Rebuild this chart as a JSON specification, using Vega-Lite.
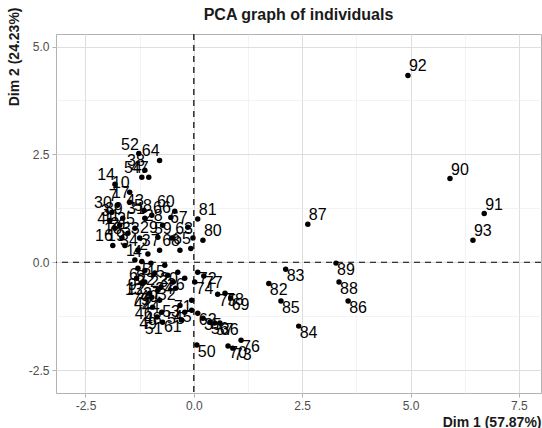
{
  "$schema": "https://vega.github.io/schema/vega-lite/v6.json",
  "width": 485,
  "height": 359,
  "autosize": {"type": "none"},
  "padding": {"left": 56, "top": 34, "right": 1, "bottom": 35},
  "background": "white",
  "config": {
    "font": "Liberation Sans",
    "view": {"stroke": "#b3b3b3", "strokeWidth": 1},
    "axis": {
      "domain": false,
      "labelFont": "Liberation Sans",
      "labelFontSize": 12,
      "labelColor": "#4d4d4d",
      "labelOverlap": false,
      "tickColor": "#b3b3b3",
      "tickSize": 4,
      "labelPadding": 3,
      "titleFont": "Liberation Sans",
      "titleFontSize": 14,
      "titleFontWeight": "bold",
      "titleColor": "#1a1a1a",
      "gridColor": {"condition": {"test": "datum.value % 2.5 === 0", "value": "#dedede"}, "value": "#ebebeb"},
      "gridWidth": {"condition": {"test": "datum.value % 2.5 === 0", "value": 1}, "value": 0.6},
      "tickOpacity": {"condition": {"test": "datum.value % 2.5 === 0", "value": 1}, "value": 0}
    }
  },
  "title": {
    "text": "PCA graph of individuals",
    "font": "Liberation Sans",
    "fontSize": 16,
    "fontWeight": "bold",
    "color": "#1a1a1a",
    "anchor": "middle",
    "baseline": "alphabetic",
    "offset": 13,
    "dy": 42
  },
  "datasets": {
    "ind": [
      {"name": "1", "dim1": -1.36, "dim2": 0.05},
      {"name": "2", "dim1": -1.06, "dim2": 0.19},
      {"name": "3", "dim1": -1.94, "dim2": 0.97},
      {"name": "4", "dim1": -1.20, "dim2": 0.02},
      {"name": "5", "dim1": -0.99, "dim2": -0.02},
      {"name": "6", "dim1": -1.29, "dim2": -0.14},
      {"name": "7", "dim1": -1.76, "dim2": 1.32},
      {"name": "8", "dim1": -1.13, "dim2": -0.19},
      {"name": "9", "dim1": -1.32, "dim2": -0.37},
      {"name": "10", "dim1": -1.48, "dim2": 1.62},
      {"name": "11", "dim1": -1.71, "dim2": 0.86},
      {"name": "12", "dim1": -1.13, "dim2": -0.46},
      {"name": "13", "dim1": -1.18, "dim2": -0.49},
      {"name": "14", "dim1": -1.82, "dim2": 1.81},
      {"name": "15", "dim1": -0.67, "dim2": -0.07},
      {"name": "16", "dim1": -1.87, "dim2": 0.39},
      {"name": "17", "dim1": -1.48, "dim2": 1.39},
      {"name": "18", "dim1": -1.66, "dim2": 0.56},
      {"name": "19", "dim1": -1.59, "dim2": 0.39},
      {"name": "20", "dim1": -0.37, "dim2": -0.23},
      {"name": "21", "dim1": -1.52, "dim2": 0.67},
      {"name": "22", "dim1": -0.90, "dim2": -0.25},
      {"name": "23", "dim1": -0.60, "dim2": -0.30},
      {"name": "24", "dim1": -0.48, "dim2": -0.46},
      {"name": "25", "dim1": -1.36, "dim2": 0.79},
      {"name": "26", "dim1": -0.21, "dim2": -0.37},
      {"name": "27", "dim1": -0.76, "dim2": -0.58},
      {"name": "28", "dim1": -0.72, "dim2": 0.86},
      {"name": "29", "dim1": -0.83, "dim2": 0.58},
      {"name": "30", "dim1": -1.89, "dim2": 1.16},
      {"name": "31", "dim1": -1.13, "dim2": 1.02},
      {"name": "32", "dim1": -0.42, "dim2": -0.60},
      {"name": "33", "dim1": -1.25, "dim2": 0.56},
      {"name": "34", "dim1": -1.29, "dim2": 0.28},
      {"name": "35", "dim1": 0.21, "dim2": -1.30},
      {"name": "36", "dim1": 0.60, "dim2": -1.41},
      {"name": "37", "dim1": -0.79, "dim2": 0.28},
      {"name": "38", "dim1": -1.13, "dim2": 2.13},
      {"name": "39", "dim1": -1.64, "dim2": 1.02},
      {"name": "40", "dim1": -0.83, "dim2": -0.65},
      {"name": "41", "dim1": -1.82, "dim2": 0.79},
      {"name": "42", "dim1": -0.97, "dim2": -0.81},
      {"name": "43", "dim1": -1.15, "dim2": 1.20},
      {"name": "44", "dim1": -0.79, "dim2": -0.88},
      {"name": "45", "dim1": -0.05, "dim2": -1.11},
      {"name": "46", "dim1": -0.95, "dim2": -1.04},
      {"name": "47", "dim1": -1.04, "dim2": 1.97},
      {"name": "48", "dim1": -0.74, "dim2": -1.16},
      {"name": "49", "dim1": -0.85, "dim2": -1.27},
      {"name": "50", "dim1": 0.07, "dim2": -1.92},
      {"name": "51", "dim1": -0.72, "dim2": -1.39},
      {"name": "52", "dim1": -1.27, "dim2": 2.52},
      {"name": "53", "dim1": -0.32, "dim2": -1.00},
      {"name": "54", "dim1": -1.20, "dim2": 1.97},
      {"name": "55", "dim1": -0.21, "dim2": -1.16},
      {"name": "56", "dim1": 0.37, "dim2": -1.39},
      {"name": "57", "dim1": 0.48, "dim2": -1.41},
      {"name": "58", "dim1": -0.97, "dim2": 1.09},
      {"name": "59", "dim1": -0.51, "dim2": 0.56},
      {"name": "60", "dim1": -0.44, "dim2": 1.18},
      {"name": "61", "dim1": -0.28, "dim2": -1.34},
      {"name": "62", "dim1": 0.09, "dim2": -1.18},
      {"name": "63", "dim1": -0.02, "dim2": 0.56},
      {"name": "64", "dim1": -0.79, "dim2": 2.36},
      {"name": "65", "dim1": -0.07, "dim2": 0.32},
      {"name": "66", "dim1": -0.53, "dim2": 1.04},
      {"name": "67", "dim1": -0.14, "dim2": 0.81},
      {"name": "68", "dim1": -0.32, "dim2": 0.28},
      {"name": "69", "dim1": 0.85, "dim2": -0.83},
      {"name": "70", "dim1": 0.79, "dim2": -1.94},
      {"name": "71", "dim1": -0.05, "dim2": -0.88},
      {"name": "72", "dim1": 0.09, "dim2": -0.23},
      {"name": "73", "dim1": 0.90, "dim2": -1.99},
      {"name": "74", "dim1": 0.02, "dim2": -0.46},
      {"name": "75", "dim1": 0.55, "dim2": -0.74},
      {"name": "76", "dim1": 1.09, "dim2": -1.81},
      {"name": "77", "dim1": 0.23, "dim2": -0.32},
      {"name": "78", "dim1": 0.72, "dim2": -0.72},
      {"name": "79", "dim1": -1.02, "dim2": -0.72},
      {"name": "80", "dim1": 0.21, "dim2": 0.51},
      {"name": "81", "dim1": 0.09, "dim2": 1.00},
      {"name": "82", "dim1": 1.73, "dim2": -0.49},
      {"name": "83", "dim1": 2.12, "dim2": -0.16},
      {"name": "84", "dim1": 2.42, "dim2": -1.48},
      {"name": "85", "dim1": 2.01, "dim2": -0.90},
      {"name": "86", "dim1": 3.56, "dim2": -0.90},
      {"name": "87", "dim1": 2.63, "dim2": 0.88},
      {"name": "88", "dim1": 3.35, "dim2": -0.46},
      {"name": "89", "dim1": 3.28, "dim2": -0.02},
      {"name": "90", "dim1": 5.91, "dim2": 1.94},
      {"name": "91", "dim1": 6.70, "dim2": 1.13},
      {"name": "92", "dim1": 4.94, "dim2": 4.33},
      {"name": "93", "dim1": 6.44, "dim2": 0.51}
    ],
    "vref": [{"dim1": 0}],
    "href": [{"dim2": 0}]
  },
  "layer": [
    {
      "data": {"name": "vref"},
      "mark": {"type": "rule", "color": "#000000", "strokeWidth": 1.2, "strokeDash": [6, 5]},
      "encoding": {
        "x": {"field": "dim1", "type": "quantitative", "scale": {"domain": [-3.18, 8.01], "nice": false, "zero": false}, "title": "Dim 1 (57.87%)"}
      }
    },
    {
      "data": {"name": "href"},
      "mark": {"type": "rule", "color": "#000000", "strokeWidth": 1.2, "strokeDash": [6, 5]},
      "encoding": {
        "y": {"field": "dim2", "type": "quantitative", "scale": {"domain": [-3.03, 5.29], "nice": false, "zero": false}, "title": "Dim 2 (24.23%)"}
      }
    },
    {
      "data": {"name": "ind"},
      "mark": {"type": "point", "filled": true, "color": "#000000", "opacity": 1, "size": 30},
      "encoding": {
        "x": {
          "field": "dim1", "type": "quantitative",
          "scale": {"domain": [-3.18, 8.01], "nice": false, "zero": false},
          "axis": {
            "values": [-2.5, -1.25, 0, 1.25, 2.5, 3.75, 5, 6.25, 7.5],
            "labelExpr": "datum.value % 2.5 === 0 ? (datum.value < 0 ? '-' : '') + format(abs(datum.value), '.1f') : ''",
            "titleAnchor": "end",
            "titleAlign": "right",
            "titleBaseline": "alphabetic",
            "titleY": 33
          },
          "title": "Dim 1 (57.87%)"
        },
        "y": {
          "field": "dim2", "type": "quantitative",
          "scale": {"domain": [-3.03, 5.29], "nice": false, "zero": false},
          "axis": {
            "values": [-2.5, -1.25, 0, 1.25, 2.5, 3.75, 5],
            "labelExpr": "datum.value % 2.5 === 0 ? (datum.value < 0 ? '-' : '') + format(abs(datum.value), '.1f') : ''",
            "titleAnchor": "end",
            "titleAlign": "right",
            "titleBaseline": "alphabetic",
            "titleAngle": -90,
            "titleX": -37.5,
            "titleY": -27
          },
          "title": "Dim 2 (24.23%)"
        }
      }
    },
    {
      "data": {"name": "ind"},
      "mark": {
        "type": "text",
        "font": "Liberation Sans",
        "fontSize": 16,
        "color": "#000000",
        "align": {"expr": "datum.dim1 >= 0 ? 'left' : 'right'"},
        "baseline": {"expr": "datum.dim2 >= 0 ? 'alphabetic' : 'top'"},
        "dx": {"expr": "datum.dim1 >= 0 ? 1 : 0"},
        "dy": {"expr": "datum.dim2 >= 0 ? -4 : -1"}
      },
      "encoding": {
        "x": {"field": "dim1", "type": "quantitative", "scale": {"domain": [-3.18, 8.01], "nice": false, "zero": false}, "title": "Dim 1 (57.87%)"},
        "y": {"field": "dim2", "type": "quantitative", "scale": {"domain": [-3.03, 5.29], "nice": false, "zero": false}, "title": "Dim 2 (24.23%)"},
        "text": {"field": "name", "type": "nominal"}
      }
    }
  ]
}
